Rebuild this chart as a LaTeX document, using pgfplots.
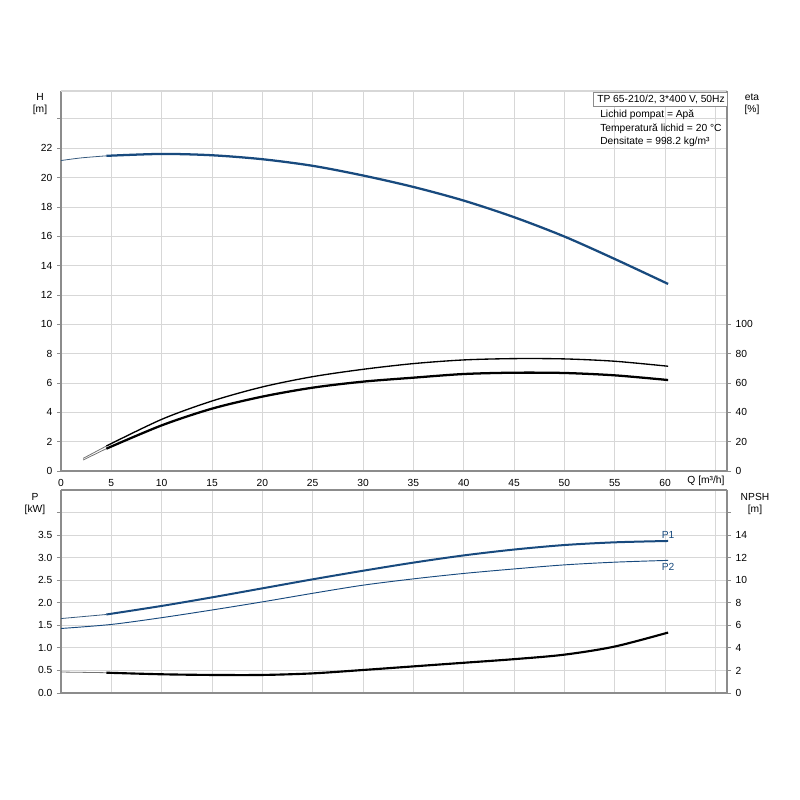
\documentclass[border=0pt]{standalone}
\usepackage{fontspec}
\setmainfont{Liberation Sans}
\usepackage{pgfplots}
\pgfplotsset{compat=1.18}
\definecolor{axgray}{RGB}{140,140,140}
\definecolor{grgray}{RGB}{215,215,215}
\definecolor{cblue}{RGB}{24,74,126}
\begin{document}
\begin{tikzpicture}
\path[use as bounding box] (0,0) rectangle (600pt,600pt);
\pgfplotsset{
  every axis/.append style={font=\fontsize{7.7}{9}\selectfont},
  base/.style={scale only axis, width=499.5pt, anchor=south west,
    xmin=0, xmax=66.15, tick align=outside, major tick length=3pt,
    axis line style={-, draw=axgray, line width=1.1pt},
    ytick style={draw=axgray, line width=0.6pt},
    xtick style={draw=none},
    yticklabel style={text=black}, xticklabel style={text=black}},
}
% ---------- top: H ----------
\begin{axis}[base, at={(45.75pt,246.75pt)}, height=285pt,
  ymin=0, ymax=25.9,
  axis x line*=bottom, axis y line*=left,
  grid=major, major grid style={draw=grgray, line width=0.6pt},
  xtick={0,5,10,15,20,25,30,35,40,45,50,55,60,65},
  xticklabels={0,5,10,15,20,25,30,35,40,45,50,55,60,{}},
  ytick={0,2,4,6,8,10,12,14,16,18,20,22,24},
  yticklabels={0,2,4,6,8,10,12,14,16,18,20,22,{}},
  clip=false]
\draw[grgray, line width=0.8pt] (rel axis cs:0,1) -- (rel axis cs:1,1);
\addplot[cblue!70!gray, line width=0.6pt, smooth] coordinates {(0,21.16) (2,21.34) (4.5,21.48)};
\addplot[cblue, line width=1.7pt, smooth] coordinates {
(4.5,21.48) (10,21.61) (15,21.52) (20,21.25) (25,20.8) (30,20.14) (35,19.36)
(40,18.43) (45,17.3) (50,15.98) (55,14.45) (60.3,12.75)};
\end{axis}
% ---------- top right: eta ----------
\begin{axis}[base, at={(45.75pt,246.75pt)}, height=285pt,
  ymin=0, ymax=259, hide x axis, axis y line*=right,
  ytick={0,20,40,60,80,100}, yticklabels={0,20,40,60,80,100}]
\addplot[black!55, line width=0.6pt, smooth] coordinates {(2.2,8.6) (4.5,17)};
\addplot[black!55, line width=0.6pt, smooth] coordinates {(2.2,7.5) (4.5,15.2)};
\addplot[black, line width=1.0pt, smooth] coordinates {
(4.5,17) (10,35.2) (15,47.7) (20,57.3) (25,64.3) (30,69.3) (35,73.2)
(40,75.7) (45,76.6) (50,76.4) (55,74.8) (60.3,71.4)};
\addplot[black, line width=1.7pt, smooth] coordinates {
(4.5,15.2) (10,31.1) (15,42.5) (20,50.7) (25,56.8) (30,60.9) (35,63.6)
(40,66.1) (45,67.0) (50,66.8) (55,65.2) (60.3,62.0)};
\end{axis}
% ---------- bottom: P ----------
\begin{axis}[base, at={(45.75pt,80.25pt)}, height=152.25pt,
  ymin=0, ymax=4.5,
  axis x line*=bottom, axis y line*=left,
  grid=major, major grid style={draw=grgray, line width=0.6pt},
  xtick={0,5,10,15,20,25,30,35,40,45,50,55,60,65},
  xticklabels={},
  ytick={0,0.5,1,1.5,2,2.5,3,3.5,4},
  yticklabels={0.0,0.5,1.0,1.5,2.0,2.5,3.0,3.5,{}},
  clip=false]
\draw[axgray, line width=1.1pt] (rel axis cs:0,1) -- (rel axis cs:1,1);
\addplot[cblue!70!gray, line width=0.6pt, smooth] coordinates {(0,1.65) (4.5,1.74)};
\addplot[cblue, line width=1.5pt, smooth] coordinates {
(4.5,1.74) (10,1.93) (15,2.12) (20,2.32) (25,2.52) (30,2.71) (35,2.89)
(40,3.05) (45,3.18) (50,3.28) (55,3.34) (60.3,3.37)};
\addplot[cblue, line width=0.7pt, smooth] coordinates {
(0,1.43) (5,1.52) (10,1.67) (15,1.84) (20,2.02) (25,2.21) (30,2.39) (35,2.53)
(40,2.65) (45,2.75) (50,2.84) (55,2.90) (60.3,2.94)};
\node[cblue, anchor=south, inner sep=1pt] at (axis cs:60.3,3.39) {P1};
\node[cblue, anchor=north, inner sep=1.5pt] at (axis cs:60.3,2.92) {P2};
\end{axis}
% ---------- bottom right: NPSH ----------
\begin{axis}[base, at={(45.75pt,80.25pt)}, height=152.25pt,
  ymin=0, ymax=18, hide x axis, axis y line*=right,
  ytick={0,2,4,6,8,10,12,14,16}, yticklabels={0,2,4,6,8,10,12,14,{}}]
\addplot[black!55, line width=0.6pt, smooth] coordinates {(0,1.86) (4.5,1.80)};
\addplot[black, line width=1.6pt, smooth] coordinates {
(4.5,1.80) (10,1.66) (15,1.6) (20,1.6) (25,1.74) (30,2.04) (35,2.36)
(40,2.68) (45,3.0) (50,3.4) (55,4.12) (60.3,5.36)};
\end{axis}
% ---------- labels ----------
\begin{scope}[font=\fontsize{7.7}{9}\selectfont]
\node at (30pt,527.25pt) {H};
\node at (30pt,517.5pt) {[m]};
\node at (564pt,527.25pt) {eta};
\node at (564pt,517.5pt) {[\%]};
\node at (26.25pt,227.25pt) {P};
\node at (26.25pt,217.5pt) {[kW]};
\node at (566.25pt,227.25pt) {NPSH};
\node at (566.25pt,217.5pt) {[m]};
\node at (529.5pt,239.25pt) {Q [m³/h]};
\draw[axgray, fill=white, line width=0.6pt] (444.75pt,520.5pt) rectangle (545.25pt,531pt);
\node[anchor=west, inner sep=0pt] at (447.75pt,525.75pt) {TP 65-210/2, 3*400 V, 50Hz};
\node[anchor=west, inner sep=0pt] at (450pt,513.75pt) {Lichid pompat = Apă};
\node[anchor=west, inner sep=0pt] at (450pt,503.25pt) {Temperatură lichid = 20 °C};
\node[anchor=west, inner sep=0pt] at (450pt,493.5pt) {Densitate = 998.2 kg/m³};
\end{scope}
\end{tikzpicture}
\end{document}
